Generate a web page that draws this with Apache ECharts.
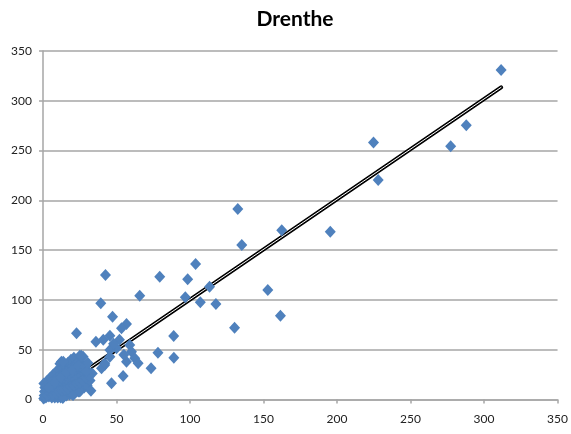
<!DOCTYPE html>
<html>
<head>
<meta charset="utf-8">
<script src="https://cdn.jsdelivr.net/npm/echarts@6/dist/echarts.min.js"></script>
<style>html,body{margin:0;padding:0;background:#fff}#c{width:571px;height:434px}</style>
</head>
<body>
<div id="c"></div>
<script>
var chartTitle = 'Drenthe';
var axisTicks = [0, 50, 100, 150, 200, 250, 300, 350];

// Scatter points (x values and y values)
var pointsX = [
  0.5,0.8,1,1.2,0.6, 2,2.5,3,2.2,3, 4,4.5,5,4.2,5, 6,6.5,7,6.2,7, 8,8.5,9,8.2,9,
  10,10.5,11,10.2,11,11.5, 12,12.5,13,12.2,13,12.5, 14,14.5,15,14.2,15, 16,16.5,17,16.2,17,
  18,18.5,19,18.2,19, 20,20.5,21,20.2,21, 22,22.5,23,22.2, 24,24.5,25,24.2,25, 26,26.5,27,26.2,
  28,28.5,29, 30,30.5,31, 32,33.5, 13.5,20.5,25,32.6,
  3,5,7,9,11,13,15,17,19,21,23,25,27,29,31, 4,8,12,16,20,24,28,
  22.8,42.5,79.4,39.3,65.8,47.3,56.8,53.4,45.5,88.9,36,41,52,59,60.2,50,45.5,78.2,89,62.4,64.7,
  56.8,42,73.5,54.5,27.3,28.5,29.6,13.8,26,30.5,39.8,42,46.6,45.5,55,48,
  98.4,103.8,113.3,96.8,107,117.6,130.3,132.5,135.2,152.9,161.5,162.4,195.4,224.8,228,277.3,287.9,311.6
];
var pointsY = [
  1,4,8,12,16, 2,6,10,14,19, 3,7,11,16,22, 2,8,13,18,25, 2,9,14,20,28,
  2,11,16,22,30,36, 2,12,18,25,32,38, 3,13,20,27,34, 4,15,22,29,37,
  5,17,24,31,40, 5,18,26,33,42, 7,20,28,35, 8,22,30,38,44, 10,24,32,43,
  12,26,34, 14,21,28, 19,26, 1.5,4.5,8,8.8,
  4,6,5,6,8,9,10,11,13,14,16,17,19,22,24, 12,17,22,27,30,34,30,
  66.5,125,123.3,96.6,104.2,83.2,75.8,71.5,64,63.8,58,60,60,54.7,48,51.4,49.7,47,42,41.4,36.4,
  38,34.6,31.5,23.6,43,33,28,38,44,36.6,31.3,36.4,16.3,43,45,56,
  120.7,136,113.3,102.6,97.6,95.9,72.1,191.3,155.2,110,84.2,170,168.5,258,220.4,254.3,275.4,331
];
// Linear trend line end points
var trendX = [0.5, 311.6];
var trendY = [0.2, 313.5];

var scatterData = pointsX.map(function (x, i) { return [x, pointsY[i]]; });
var trendData = trendX.map(function (x, i) { return [x, trendY[i]]; });

var gridColor = '#a6a6a6';
var chart = echarts.init(document.getElementById('c'), null, {renderer: 'canvas'});
chart.setOption({
  animation: false,
  backgroundColor: '#ffffff',
  title: {
    text: chartTitle,
    left: 290,
    top: 4,
    textAlign: 'center',
    textStyle: {fontFamily: 'Lato', fontWeight: 'bold', fontSize: 21, color: '#000'}
  },
  grid: {left: 43, right: 12, top: 51, bottom: 34.5, containLabel: false},
  xAxis: {
    type: 'value', min: axisTicks[0], max: axisTicks[axisTicks.length - 1], interval: 50,
    axisLine: {show: true, lineStyle: {color: gridColor, width: 1.5}},
    axisTick: {show: true, length: 4, lineStyle: {color: gridColor, width: 1.5}},
    splitLine: {show: false},
    axisLabel: {margin: 14, color: '#222', fontFamily: 'Lato', fontSize: 12}
  },
  yAxis: {
    type: 'value', min: axisTicks[0], max: axisTicks[axisTicks.length - 1], interval: 50,
    axisLine: {show: true, lineStyle: {color: gridColor, width: 1.5}},
    axisTick: {show: true, length: 4, lineStyle: {color: gridColor, width: 1.5}},
    splitLine: {show: true, lineStyle: {color: gridColor, width: 1.5}},
    axisLabel: {margin: 11, color: '#222', fontFamily: 'Lato', fontSize: 12}
  },
  series: [
    {
      type: 'line', data: trendData, symbol: 'none', z: 2, silent: true,
      lineStyle: {color: '#000', width: 4, cap: 'round'}
    },
    {
      type: 'line', data: trendData, symbol: 'none', z: 3, silent: true,
      lineStyle: {color: '#fff', width: 1, cap: 'round'}
    },
    {
      type: 'scatter', data: scatterData, symbol: 'diamond', symbolSize: [11, 12], z: 4,
      itemStyle: {color: '#4F81BD', opacity: 1}
    }
  ]
});
</script>
</body>
</html>
